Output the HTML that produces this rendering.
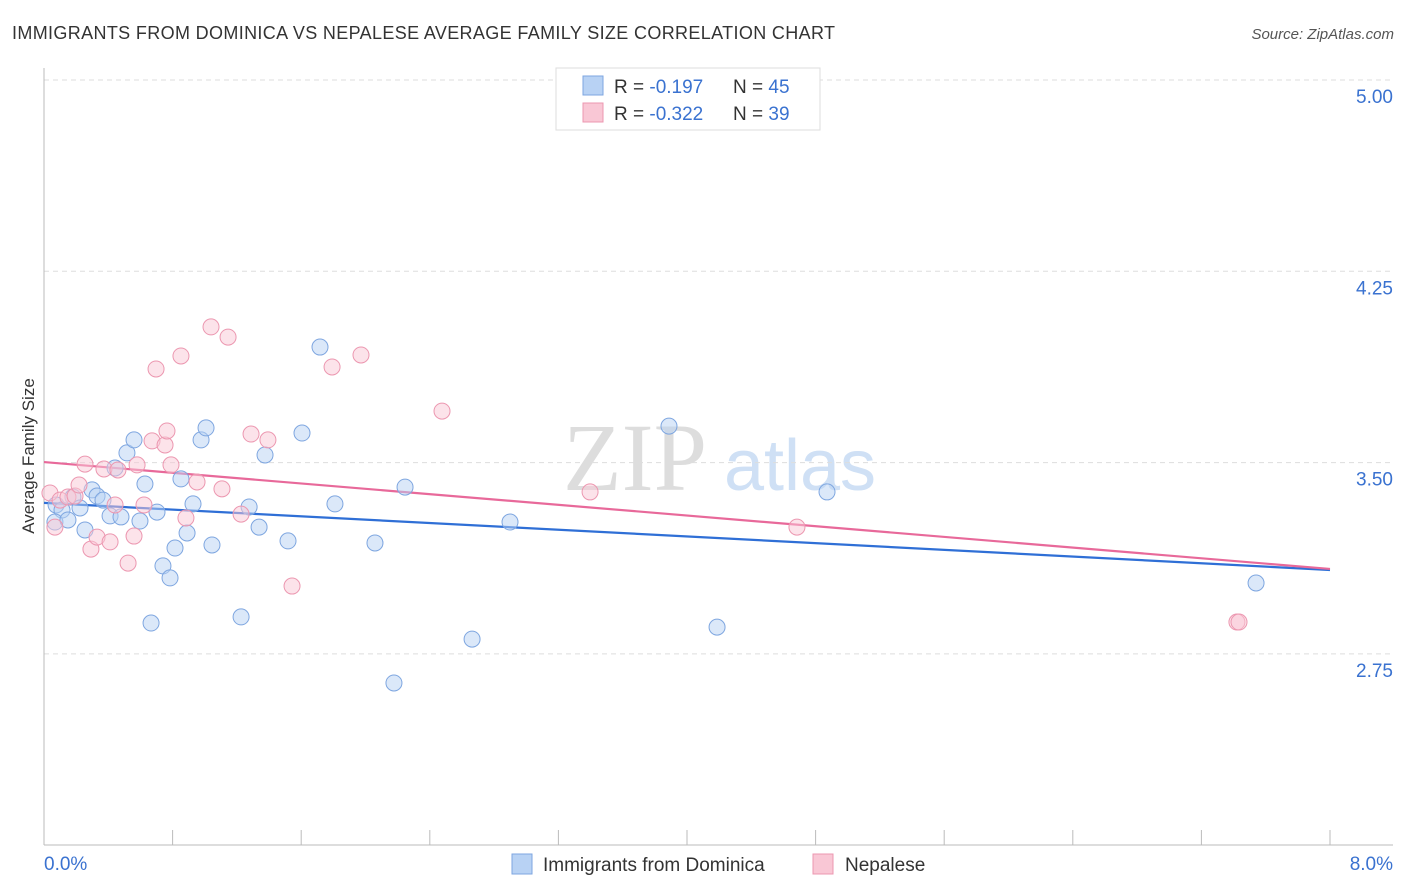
<!DOCTYPE html>
<html><head><meta charset="utf-8"><style>
body{margin:0;background:#fff;font-family:"Liberation Sans",sans-serif;}
svg{display:block}
</style></head><body>
<svg id="chart" width="1406" height="892">
<text x="12" y="39" font-size="18" fill="#333" textLength="823" lengthAdjust="spacing">IMMIGRANTS FROM DOMINICA VS NEPALESE AVERAGE FAMILY SIZE CORRELATION CHART</text>
<text x="1394" y="39" font-size="15" fill="#555" font-style="italic" text-anchor="end">Source: ZipAtlas.com</text>
<text x="34" y="456" font-size="17" fill="#333" text-anchor="middle" transform="rotate(-90 34 456)">Average Family Size</text>
<g><text x="635" y="490" font-size="96" font-family="Liberation Serif,serif" fill="#ddd" text-anchor="middle">ZIP</text><text x="800" y="490" font-size="72" fill="#cfe0f5" text-anchor="middle">atlas</text></g>
<g id="grid"></g><g id="axes"></g><g id="trends"></g><g id="points"></g>
<g>
<rect x="556" y="68" width="264" height="62" fill="#fff" stroke="#ddd"/>
<rect x="583" y="76" width="20" height="19" fill="#b8d2f4" stroke="#7ea6e0"/>
<rect x="583" y="103" width="20" height="19" fill="#f9c7d5" stroke="#ec97b0"/>
<text x="614" y="93" font-size="19" fill="#333">R = <tspan fill="#3a72d0"> -0.197</tspan><tspan x="733">N = </tspan><tspan fill="#3a72d0">45</tspan></text>
<text x="614" y="120" font-size="19" fill="#333">R = <tspan fill="#3a72d0">-0.322</tspan><tspan x="733">N = </tspan><tspan fill="#3a72d0">39</tspan></text>
</g>
<g>
<rect x="512" y="854" width="20" height="20" fill="#b8d2f4" stroke="#7ea6e0"/>
<text x="543" y="871" font-size="19" fill="#333">Immigrants from Dominica</text>
<rect x="813" y="854" width="20" height="20" fill="#f9c7d5" stroke="#ec97b0"/>
<text x="845" y="871" font-size="19" fill="#333">Nepalese</text>
</g>
</svg>
<script>
const blueX=[.075,.112,.068,.149,.180,.224,.255,.299,.330,.367,.411,.442,.479,.516,.560,.597,.628,.666,.703,.740,.784,.815,.852,.890,.927,.977,1.008,1.045,1.226,1.276,1.338,1.375,1.518,1.605,1.717,1.810,2.059,2.177,2.246,2.663,2.899,3.888,4.187,4.871,7.540];
const blueY=[3.334,3.314,3.267,3.275,3.365,3.322,3.236,3.393,3.369,3.353,3.291,3.479,3.287,3.538,3.589,3.271,3.416,2.871,3.306,3.095,3.048,3.165,3.436,3.224,3.338,3.589,3.636,3.177,2.895,3.326,3.247,3.530,3.193,3.616,3.953,3.338,3.185,2.636,3.404,2.808,3.267,3.643,2.855,3.385,3.028];
const pinkX=[.037,.068,.100,.149,.193,.218,.255,.292,.330,.373,.411,.442,.460,.523,.560,.579,.622,.672,.697,.753,.765,.790,.852,.883,.952,1.039,1.107,1.145,1.226,1.288,1.393,1.543,1.792,1.972,2.476,3.397,4.684,7.421,7.434];
const pinkY=[3.381,3.247,3.353,3.365,3.369,3.412,3.494,3.161,3.208,3.475,3.189,3.334,3.471,3.106,3.212,3.491,3.334,3.585,3.867,3.569,3.624,3.491,3.918,3.283,3.424,4.032,3.397,3.992,3.298,3.612,3.589,3.016,3.875,3.922,3.702,3.385,3.247,2.875,2.875];
const blueTrend=[3.342,3.079];
const pinkTrend=[3.502,3.083];
const yTicks=[5.00,4.25,3.50,2.75];
const xTickCount=10;
const NS="http://www.w3.org/2000/svg";
const X=v=>44+v/8*1286, Y=v=>80+(5-v)/0.75*191.3;
function mk(t,a,p){const e=document.createElementNS(NS,t);for(const k in a)e.setAttribute(k,a[k]);p.appendChild(e);return e;}
const grid=document.getElementById('grid'),axes=document.getElementById('axes');
yTicks.forEach(t=>{const l=mk('line',{x1:44,x2:1393,y1:Y(t),y2:Y(t),stroke:'#ddd','stroke-dasharray':'5,4'},grid);


const tx=mk('text',{x:1393,y:Y(t)+23,'font-size':19,fill:'#3a72d0','text-anchor':'end'},axes);tx.textContent=t.toFixed(2);

});
const ya=mk('line',{x1:44,x2:44,y1:68,y2:845,stroke:'#bbb'},axes);


const xa=mk('line',{x1:44,x2:1393,y1:845,y2:845,stroke:'#bbb'},axes);


for(let i=1;i<=xTickCount;i++){const v=8*i/xTickCount;const t=mk('line',{x1:X(v),x2:X(v),y1:830,y2:845,stroke:'#bbb'},axes);

}
const l0=mk('text',{x:44,y:870,'font-size':19,fill:'#3a72d0'},axes);l0.textContent='0.0%';


const l8=mk('text',{x:1393,y:870,'font-size':19,fill:'#3a72d0','text-anchor':'end'},axes);l8.textContent='8.0%';


const pts=document.getElementById('points');
function dots(xs,ys,fill,stroke,name){xs.forEach((x,i)=>{const c=mk('circle',{cx:X(x),cy:Y(ys[i]),r:8,fill:fill,'fill-opacity':0.5,stroke:stroke,'stroke-width':1},pts);

});}
dots(blueX,blueY,'#b8d2f4','#7ea6e0','point-dominica');
dots(pinkX,pinkY,'#f9c7d5','#ec97b0','point-nepalese');
const tr=document.getElementById('trends');
const b=mk('line',{x1:X(0),y1:Y(blueTrend[0]),x2:X(8),y2:Y(blueTrend[1]),stroke:'#2f6fd6','stroke-width':2.2},tr);


const p=mk('line',{x1:X(0),y1:Y(pinkTrend[0]),x2:X(8),y2:Y(pinkTrend[1]),stroke:'#e8699a','stroke-width':2.2},tr);


</script>
</body></html>
